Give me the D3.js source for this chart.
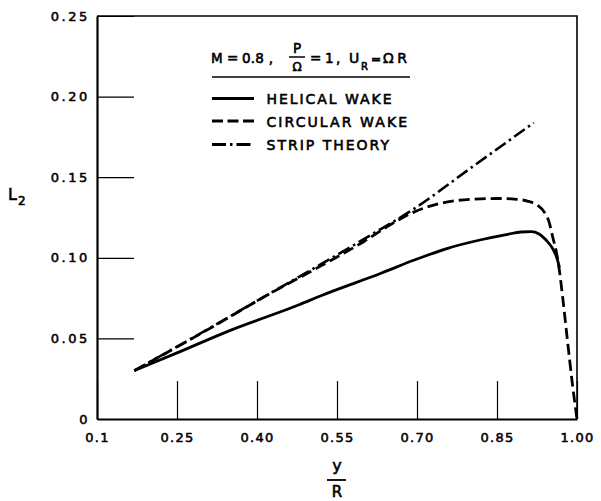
<!DOCTYPE html>
<html><head><meta charset="utf-8">
<script src="https://cdn.jsdelivr.net/npm/d3@7"></script>
<style>
body{margin:0;background:#fff}
svg{display:block}
text{font-family:"DejaVu Sans",sans-serif;fill:#000}
</style>
</head><body>
<svg id="c" width="601" height="501"></svg>
<script>
// ---- data ----
const xTickValues = [0.1, 0.25, 0.40, 0.55, 0.70, 0.85, 1.00];
const xTickLabels = ["0.1", "0.25", "0.40", "0.55", "0.70", "0.85", "1.00"];
const yTickValues = [0, 0.05, 0.10, 0.15, 0.20, 0.25];
const yTickLabels = ["0", "0.05", "0.10", "0.15", "0.20", "0.25"];

const helicalWake = [[0.17,0.030],[0.25,0.041],[0.35,0.055],[0.48,0.071],[0.52,0.0765],[0.6325,0.0904],
  [0.695,0.0986],[0.7575,0.1059],[0.82,0.1112],[0.87,0.1146],[0.895,0.1160],[0.914,0.1162],
  [0.929,0.1148],[0.942,0.1110],[0.954,0.1059],[0.9625,0.0997],[0.967,0.094]];
const circularWake = [[0.17,0.030],[0.30,0.054],[0.42,0.077],[0.52,0.095],[0.60,0.110],[0.65,0.1205],
  [0.695,0.1285],[0.7575,0.1347],[0.82,0.1366],[0.8575,0.1368],[0.8825,0.1364],[0.907,0.1352],[0.926,0.1325],
  [0.939,0.1282],[0.948,0.1218],[0.954,0.1135],[0.961,0.1040],[0.966,0.0945],[0.973,0.0759],
  [0.982,0.049],[0.992,0.020],[1.0,0.0]];
const stripTheory = [[0.17,0.030],[0.32,0.058],[0.43,0.079],[0.52,0.096],[0.61,0.1135],[0.695,0.1305],
  [0.80,0.1555],[0.919,0.1838]];

const legendLabels = ["HELICAL WAKE", "CIRCULAR WAKE", "STRIP THEORY"];
const legendDash = ["none", "11,5", "13,4,2.5,4"];
const legendWidths = [125, 140.5, 122.5];

// ---- scales ----
const svg = d3.select("#c");
const x = d3.scaleLinear().domain([0.1, 1.0]).range([97, 577]);
const y = d3.scaleLinear().domain([0, 0.25]).range([419, 16]);

// frame (top & right)
svg.append("path")
  .attr("d", `M${x(0.1)},${y(0.25)}H${x(1.0)}V${y(0)}`)
  .attr("fill", "none").attr("stroke", "#000").attr("stroke-width", 1.6);

// axes
const gx = svg.append("g").attr("transform", `translate(0,${y(0)})`)
  .call(d3.axisBottom(x).tickValues(xTickValues).tickFormat((d, i) => xTickLabels[i])
    .tickSizeInner(-38).tickSizeOuter(0).tickPadding(14));
const gy = svg.append("g").attr("transform", `translate(${x(0.1)},0)`)
  .call(d3.axisLeft(y).tickValues(yTickValues).tickFormat((d, i) => yTickLabels[i])
    .tickSizeInner(-37).tickSizeOuter(0).tickPadding(7));
[gx, gy].forEach(g => {
  g.attr("font-family", null).attr("font-size", null);
  g.select(".domain").attr("stroke", "#000").attr("stroke-width", 2.2);
  g.selectAll(".tick line").attr("stroke", "#000").attr("stroke-width", 1.2);
});
gx.selectAll(".tick text").style("font-size", "13px").style("letter-spacing", "1.3px")
  .attr("stroke", "#000").attr("stroke-width", 0.55);
gy.selectAll(".tick text").style("font-size", "13px").style("letter-spacing", "2.6px")
  .attr("stroke", "#000").attr("stroke-width", 0.55);

// curves
const line = d3.line().x(d => x(d[0])).y(d => y(d[1])).curve(d3.curveMonotoneX);
svg.append("path").datum(stripTheory).attr("d", line)
  .attr("fill", "none").attr("stroke", "#000").attr("stroke-width", 2.6)
  .attr("stroke-dasharray", legendDash[2]);
svg.append("path").datum(circularWake).attr("d", line)
  .attr("fill", "none").attr("stroke", "#000").attr("stroke-width", 2.8)
  .attr("stroke-dasharray", legendDash[1]);
svg.append("path").datum(helicalWake).attr("d", line)
  .attr("fill", "none").attr("stroke", "#000").attr("stroke-width", 2.8);

// axis titles
const tstroke = g => g.attr("stroke", "#000").attr("stroke-width", 0.6);
svg.append("text").attr("x", 8).attr("y", 200).style("font-size", "16px").text("L").call(tstroke);
svg.append("text").attr("x", 18).attr("y", 205).style("font-size", "12px").text("2").call(tstroke);
svg.append("text").attr("x", 337).attr("y", 471).attr("text-anchor", "middle").style("font-size", "16px").text("y").call(tstroke);
svg.append("line").attr("x1", 327).attr("x2", 346).attr("y1", 480).attr("y2", 480).attr("stroke", "#000").attr("stroke-width", 1.8);
svg.append("text").attr("x", 337).attr("y", 497).attr("text-anchor", "middle").style("font-size", "15px").text("R").call(tstroke);

// legend title
const lg = svg.append("g");
lg.append("text").attr("x", 211).attr("y", 63).style("font-size", "13.5px").text("M").call(tstroke);
lg.append("text").attr("x", 227).attr("y", 63).style("font-size", "13.5px").text("=").call(tstroke);
lg.append("text").attr("x", 242).attr("y", 63).style("font-size", "13.5px")
  .attr("textLength", 31).attr("lengthAdjust", "spacing").text("0.8 ,").call(tstroke);
lg.append("text").attr("x", 297).attr("y", 53).attr("text-anchor", "middle").style("font-size", "13.5px").text("P").call(tstroke);
lg.append("line").attr("x1", 289).attr("x2", 305).attr("y1", 57).attr("y2", 57).attr("stroke", "#000").attr("stroke-width", 1.5);
lg.append("text").attr("x", 297).attr("y", 70.5).attr("text-anchor", "middle").style("font-size", "12px").text("Ω").call(tstroke);
lg.append("text").attr("x", 310).attr("y", 63).style("font-size", "13.5px").text("=").call(tstroke);
lg.append("text").attr("x", 325).attr("y", 63).style("font-size", "13.5px").text("1").call(tstroke);
lg.append("text").attr("x", 336).attr("y", 63).style("font-size", "13.5px").text(",").call(tstroke);
lg.append("text").attr("x", 349).attr("y", 63).style("font-size", "14px").text("U").call(tstroke);
lg.append("text").attr("x", 361).attr("y", 70).style("font-size", "10px").text("R").call(tstroke);
lg.append("text").attr("x", 371).attr("y", 63).style("font-size", "12px").text("=").call(tstroke);
lg.append("text").attr("x", 383).attr("y", 63).style("font-size", "14px")
  .attr("textLength", 24).attr("lengthAdjust", "spacing").text("ΩR").call(tstroke);
lg.append("line").attr("x1", 212).attr("x2", 410).attr("y1", 77).attr("y2", 77).attr("stroke", "#000").attr("stroke-width", 1.5);

const rowsY = [98.5, 121, 144.5];
legendLabels.forEach((lab, i) => {
  lg.append("line").attr("x1", 212).attr("x2", 254).attr("y1", rowsY[i]).attr("y2", rowsY[i])
    .attr("stroke", "#000").attr("stroke-width", 2.8)
    .attr("stroke-dasharray", legendDash[i] === "none" ? null : (i === 1 ? "11,4.5" : "14,4,2.5,4"));
  lg.append("text").attr("x", 266.5).attr("y", rowsY[i] + 5.5).style("font-size", "14px")
    .attr("textLength", legendWidths[i]).attr("lengthAdjust", "spacing").text(lab).call(tstroke);
});
</script>
</body></html>
